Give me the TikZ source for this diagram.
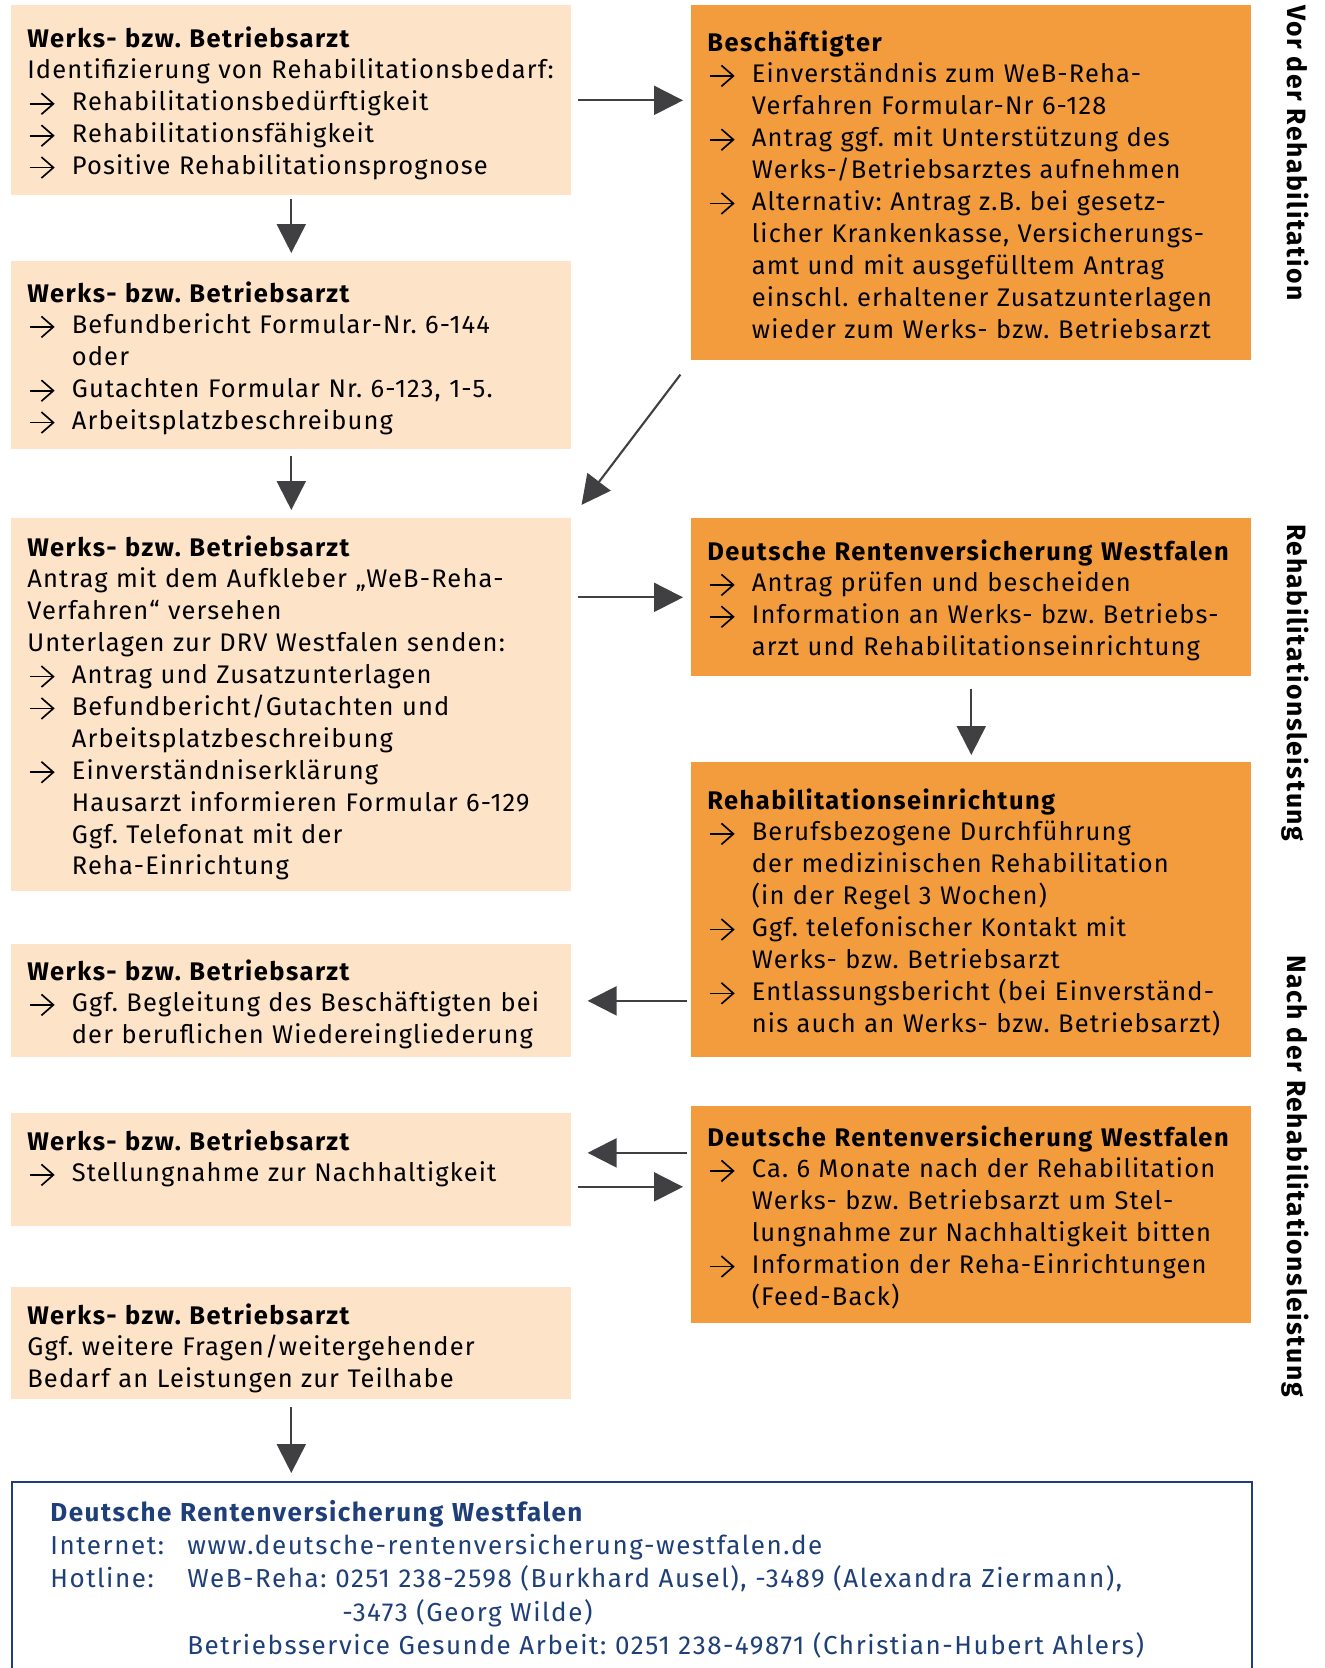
\documentclass[tikz,border=0pt]{standalone}
\usepackage{fontspec}
\setmainfont{Fira Sans}[LetterSpace=4.5, BoldFeatures={LetterSpace=5.8}]
\frenchspacing
\usetikzlibrary{positioning,arrows.meta,calc}
\definecolor{peach}{HTML}{FDE3C8}
\definecolor{orng}{HTML}{F39C3E}
\definecolor{pfeilgrau}{HTML}{404042}
\definecolor{drvblau}{HTML}{1E3F78}
\newcommand{\pf}{\makebox[0.89cm][l]{\hspace{0.03cm}\tikz[baseline=-0.14cm]\draw[line width=0.95pt, -{Straight Barb[length=0.24cm, width=0.42cm]}] (0cm,0cm) -- (0.5cm,0cm);}}
\newcommand{\ein}{\hspace*{0.89cm}}

\begin{document}
\begin{tikzpicture}[
  x=0.02cm, y=-0.02cm,
  >={Triangle[length=0.58cm,width=0.58cm]},
  box/.style={rectangle, inner sep=0, anchor=north west, minimum width=11.2cm},
  lbox/.style={box, fill=peach},
  rbox/.style={box, fill=orng},
  txt/.style={anchor=base west, inner sep=0, align=left, text width=10.8cm, font=\fontsize{14.5}{18.15}\selectfont},
  side/.style={anchor=base west, inner sep=0, rotate=-90, font=\fontsize{15.1}{18}\selectfont\bfseries},
  arr/.style={->, line width=1.2pt, pfeilgrau, shorten <=0.12cm, shorten >=0.16cm}
]
  \useasboundingbox (0,0) rectangle (1325,1668);

  % linke Spalte
  \node[lbox, minimum height=3.8cm] (L1) at (11,5) {};
  \node[lbox, minimum height=3.76cm] (L2) at (11,261) {};
  \node[lbox, minimum height=7.46cm] (L3) at (11,518) {};
  \node[lbox, minimum height=2.26cm] (L4) at (11,944) {};
  \node[lbox, minimum height=2.26cm] (L5) at (11,1113) {};
  \node[lbox, minimum height=2.24cm] (L6) at (11,1287) {};

  % rechte Spalte
  \node[rbox, minimum height=7.1cm] (R1) at (691,5) {};
  \node[rbox, minimum height=3.16cm] (R2) at (691,518) {};
  \node[rbox, minimum height=5.9cm] (R3) at (691,762) {};
  \node[rbox, minimum height=4.34cm] (R4) at (691,1106) {};

  % Kontaktkasten unten
  \node[box, draw=drvblau, line width=1.1pt, minimum width=24.8cm, minimum height=3.9cm] (drv) at (11,1481) {};

  % Texte
  \node[txt] (t1) at ($(L1.north west)+(16,42)$) {\textbf{Werks- bzw. Betriebsarzt}\\
    Identifizierung von Rehabilitationsbedarf:\\
    \pf Rehabilitationsbedürftigkeit\\
    \pf Rehabilitationsfähigkeit\\
    \pf Positive Rehabilitationsprognose};
  \node[txt] (t2) at ($(L2.north west)+(16,41)$) {\textbf{Werks- bzw. Betriebsarzt}\\
    \pf Befundbericht Formular-Nr. 6-144\\
    \ein oder\\
    \pf Gutachten Formular Nr. 6-123, 1-5.\\
    \pf Arbeitsplatzbeschreibung};
  \node[txt] (t3) at ($(L3.north west)+(16,38)$) {\textbf{Werks- bzw. Betriebsarzt}\\
    Antrag mit dem Aufkleber „WeB-Reha-\\
    Verfahren“ versehen\\
    Unterlagen zur DRV Westfalen senden:\\
    \pf Antrag und Zusatzunterlagen\\
    \pf Befundbericht/Gutachten und\\
    \ein Arbeitsplatzbeschreibung\\
    \pf Einverständniserklärung\\
    \ein Hausarzt informieren Formular 6-129\\
    \ein Ggf. Telefonat mit der\\
    \ein Reha-Einrichtung};
  \node[txt] (t4) at ($(L4.north west)+(16,36)$) {\textbf{Werks- bzw. Betriebsarzt}\\
    \pf Ggf. Begleitung des Beschäftigten bei\\
    \ein der beruflichen Wiedereingliederung};
  \node[txt] (t5) at ($(L5.north west)+(16,37)$) {\textbf{Werks- bzw. Betriebsarzt}\\
    \pf Stellungnahme zur Nachhaltigkeit};
  \node[txt] (t6) at ($(L6.north west)+(16,37)$) {\textbf{Werks- bzw. Betriebsarzt}\\
    Ggf. weitere Fragen/weitergehender\\
    Bedarf an Leistungen zur Teilhabe};

  \node[txt] (u1) at ($(R1.north west)+(16,46)$) {\textbf{Beschäftigter}\\
    \pf Einverständnis zum WeB-Reha-\\
    \ein Verfahren Formular-Nr 6-128\\
    \pf Antrag ggf. mit Unterstützung des\\
    \ein Werks-/Betriebsarztes aufnehmen\\
    \pf Alternativ: Antrag z.B. bei gesetz-\\
    \ein licher Krankenkasse, Versicherungs-\\
    \ein amt und mit ausgefülltem Antrag\\
    \ein einschl. erhaltener Zusatzunterlagen\\
    \ein wieder zum Werks- bzw. Betriebsarzt};
  \node[txt] (u2) at ($(R2.north west)+(16,42)$) {\textbf{Deutsche Rentenversicherung Westfalen}\\
    \pf Antrag prüfen und bescheiden\\
    \pf Information an Werks- bzw. Betriebs-\\
    \ein arzt und Rehabilitationseinrichtung};
  \node[txt] (u3) at ($(R3.north west)+(16,47)$) {\textbf{Rehabilitationseinrichtung}\\
    \pf Berufsbezogene Durchführung\\
    \ein der medizinischen Rehabilitation\\
    \ein (in der Regel 3 Wochen)\\
    \pf Ggf. telefonischer Kontakt mit\\
    \ein Werks- bzw. Betriebsarzt\\
    \pf Entlassungsbericht (bei Einverständ-\\
    \ein nis auch an Werks- bzw. Betriebsarzt)};
  \node[txt] (u4) at ($(R4.north west)+(16,40)$) {\textbf{Deutsche Rentenversicherung Westfalen}\\
    \pf Ca. 6 Monate nach der Rehabilitation\\
    \ein Werks- bzw. Betriebsarzt um Stel-\\
    \ein lungnahme zur Nachhaltigkeit bitten\\
    \pf Information der Reha-Einrichtungen\\
    \ein (Feed-Back)};

  \node[txt, text width=24cm, text=drvblau, font=\fontsize{14.8}{19}\selectfont\addfontfeature{LetterSpace=6}] (kontakt) at ($(drv.north west)+(39,40)$) {\textbf{Deutsche Rentenversicherung Westfalen}\\
    \makebox[2.74cm][l]{Internet:}www.deutsche-rentenversicherung-westfalen.de\\
    \makebox[2.74cm][l]{Hotline:}WeB-Reha: 0251 238-2598 (Burkhard Ausel), -3489 (Alexandra Ziermann),\\
    \hspace*{5.84cm}-3473 (Georg Wilde)\\
    \hspace*{2.74cm}Betriebsservice Gesunde Arbeit: 0251 238-49871 (Christian-Hubert Ahlers)};

  % Phasen
  \node[side] (vor) at (1287,5) {Vor der Rehabilitation};
  \node[side] (reha) at (1287,524) {Rehabilitationsleistung};
  \node[side] (nach) at (1287,955) {Nach der Rehabilitationsleistung};

  % Pfeile
  \draw[arr] (L1) -- (L1 -| R1.west);
  \draw[arr, shorten <=0.06cm] (L1) -- (L2);
  \draw[arr] (L2) -- (L3);
  \draw[arr, shorten <=0.35cm, shorten >=0.33cm] (R1.south west) -- (L3.north east);
  \draw[arr] (L3.east |- R2) -- (R2.west);
  \draw[arr, shorten <=0.24cm, shorten >=0.14cm] (R2) -- (R3);
  \draw[arr, shorten <=0.08cm, shorten >=0.32cm] (R3.west |- L4) -- (L4);
  \draw[arr, shorten <=0.08cm, shorten >=0.32cm] ($(R4.west |- L5)+(0,-17)$) -- ($(L5.east)+(0,-17)$);
  \draw[arr] ($(L5.east)+(0,17)$) -- ($(R4.west |- L5)+(0,17)$);
  \draw[arr, shorten <=0.15cm] (L6) -- (L6 |- drv.north);
\end{tikzpicture}
\end{document}
